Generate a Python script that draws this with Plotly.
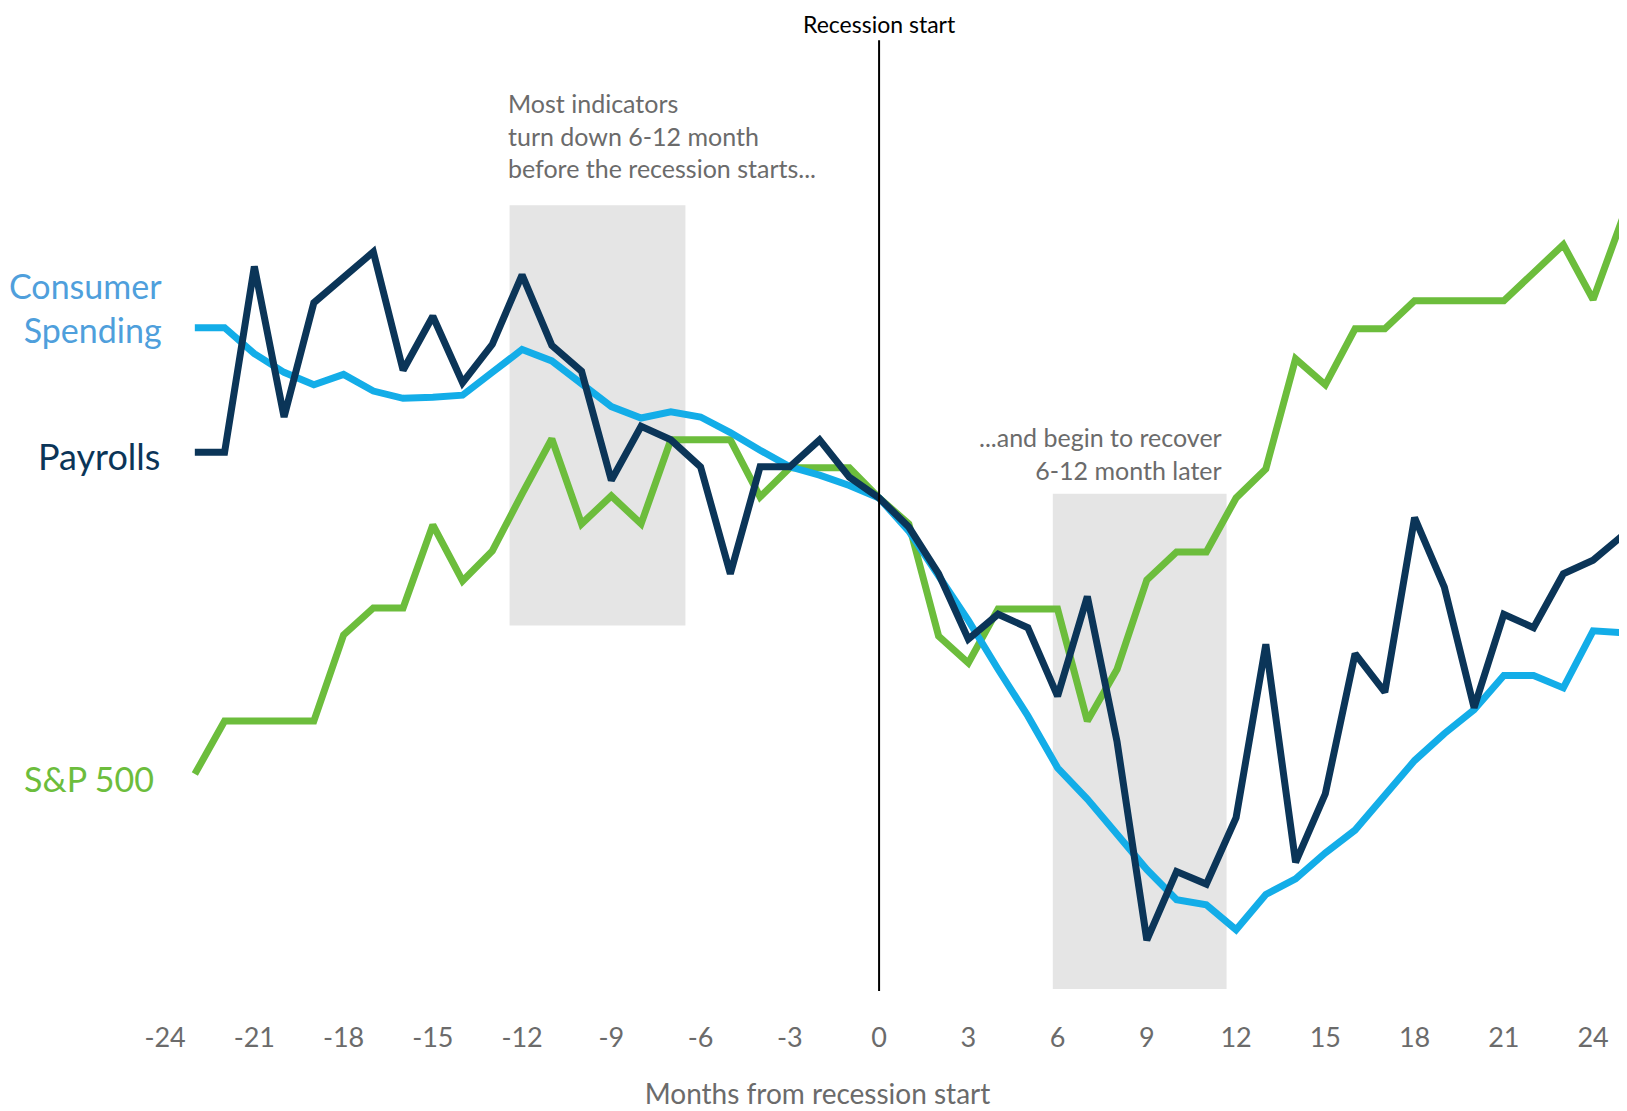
import plotly.graph_objects as go

months = list(range(-23, 26))

payrolls = [4.4, 4.4, 22.3, 7.8, 18.8, 21.2, 23.7, 12.3, 17.5, 11.1, 14.8, 21.5,
            14.7, 12.2, 1.7, 6.9, 5.6, 3.0, -7.3, 3.0, 3.0, 5.6, 2.0, 0.0,
            -2.8, -7.3, -13.6, -11.2, -12.5, -19.1, -9.5, -23.5, -42.6, -36.0, -37.2, -30.8,
            -14.1, -35.1, -28.5, -15.0, -18.7, -1.9, -8.6, -20.2, -11.2, -12.5, -7.3, -6.0, -3.6]

consumer_spending = [16.4, 16.4, 13.9, 12.1, 10.9, 11.9, 10.3, 9.6, 9.7, 9.9, 12.1, 14.3,
                     13.2, 11.1, 8.8, 7.7, 8.3, 7.8, 6.3, 4.6, 3.0, 2.2, 1.2, 0.0,
                     -3.2, -7.5, -11.8, -16.5, -21.0, -26.0, -29.0, -32.4, -35.8, -38.7, -39.2, -41.6,
                     -38.2, -36.7, -34.2, -32.0, -28.7, -25.3, -22.7, -20.4, -17.1, -17.1, -18.3, -12.8, -13.0]

sp500 = [-26.6, -21.5, -21.5, -21.5, -21.5, -13.2, -10.6, -10.6, -2.6, -8.0, -5.1, 0.4,
         5.7, -2.5, 0.2, -2.5, 5.6, 5.6, 5.6, 0.1, 2.9, 2.9, 2.9, 0.0,
         -2.5, -13.3, -15.9, -10.7, -10.7, -10.7, -21.5, -16.5, -7.9, -5.2, -5.2, 0.0,
         2.8, 13.4, 10.9, 16.3, 16.3, 19.0, 19.0, 19.0, 19.0, 21.7, 24.4, 19.1, 27.0]

tick_vals = list(range(-24, 25, 3))
tick_text = [str(v) for v in tick_vals]

NAVY = "#0b3558"
BLUE = "#13ade8"
GREEN = "#6cbd3c"
LABEL_BLUE = "#4f9fdc"
GRAY_TEXT = "#6b6b6b"
BOX = "#e5e5e5"
FONT = "Lato"

fig = go.Figure()
fig.add_trace(go.Scatter(x=months, y=sp500, mode="lines", name="S&P 500",
                         line=dict(color=GREEN, width=7)))
fig.add_trace(go.Scatter(x=months, y=consumer_spending, mode="lines", name="Consumer Spending",
                         line=dict(color=BLUE, width=7)))
fig.add_trace(go.Scatter(x=months, y=payrolls, mode="lines", name="Payrolls",
                         line=dict(color=NAVY, width=7)))

shapes = [
    dict(type="rect", xref="x", yref="y", x0=-12.42, x1=-6.51, y0=-12.3, y1=28.2,
         fillcolor=BOX, line=dict(width=0), layer="below"),
    dict(type="rect", xref="x", yref="y", x0=5.84, x1=11.68, y0=-47.3, y1=0.4,
         fillcolor=BOX, line=dict(width=0), layer="below"),
    dict(type="line", xref="x", yref="y", x0=0, x1=0, y0=-47.5, y1=44.1,
         line=dict(color="black", width=2), layer="above"),
]

annotations = [
    dict(x=0, y=45.7, xref="x", yref="y", text="Recession start", showarrow=False,
         xanchor="center", yanchor="middle", borderpad=0,
         font=dict(family=FONT, size=23, color="black")),
    dict(x=-12.55, y=34.9, xref="x", yref="y",
         text="Most indicators<br>turn down 6-12 month<br>before the recession starts...",
         showarrow=False, xanchor="left", yanchor="middle", align="left",
         font=dict(family=FONT, size=25, color=GRAY_TEXT)),
    dict(x=11.58, y=4.3, xref="x", yref="y",
         text="...and begin to recover<br>6-12 month later",
         showarrow=False, xanchor="right", yanchor="middle", align="right",
         font=dict(family=FONT, size=25, color=GRAY_TEXT)),
    dict(x=-24.03, y=18.3, xref="x", yref="y", text="Consumer<br>Spending",
         showarrow=False, xanchor="right", yanchor="middle", align="right",
         font=dict(family=FONT, size=34, color=LABEL_BLUE)),
    dict(x=-24.1, y=4.0, xref="x", yref="y", text="Payrolls",
         showarrow=False, xanchor="right", yanchor="middle", align="right",
         font=dict(family=FONT, size=36, color=NAVY)),
    dict(x=-24.3, y=-27.0, xref="x", yref="y", text="S&P 500",
         showarrow=False, xanchor="right", yanchor="middle", align="right",
         font=dict(family=FONT, size=34, color=GREEN)),
]

fig.update_layout(
    width=1619, height=1103,
    margin=dict(l=0, r=0, t=0, b=120),
    paper_bgcolor="white", plot_bgcolor="white",
    showlegend=False,
    shapes=shapes,
    annotations=annotations,
    xaxis=dict(range=[-29.28, 25.14], tickmode="array", tickvals=tick_vals, ticktext=tick_text,
               showgrid=False, zeroline=False, showline=False, ticks="",
               ticklabelstandoff=28,
               tickfont=dict(family=FONT, size=27, color=GRAY_TEXT),
               title=dict(text="Months from recession start", standoff=32,
                          font=dict(family=FONT, size=28, color=GRAY_TEXT))),
    yaxis=dict(range=[-47.5, 47.2], visible=False, showgrid=False, zeroline=False),
)

fig.write_html("out.html")
